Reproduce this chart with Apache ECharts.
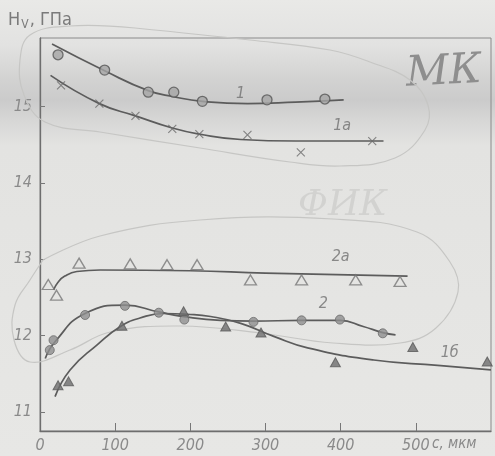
<!DOCTYPE html>
<html><head><meta charset="utf-8">
<script src="https://cdn.jsdelivr.net/npm/echarts@6/dist/echarts.min.js"></script>
<style>html,body{margin:0;padding:0;background:#e7e7e5}#c{width:495px;height:456px}</style>
</head><body><div id="c"></div>
<script>
// Measured points (c, мкм ; Hv, ГПа)
const pts1  = [[24,15.68],[86,15.48],[144,15.19],[178,15.19],[216,15.07],[302,15.09],[379,15.10]];
const pts1a = [[28,15.28],[79,15.04],[127,14.88],[176,14.71],[212,14.64],[276,14.63],[347,14.40],[442,14.55]];
const pts2a = [[11,12.67],[22,12.53],[52,12.95],[120,12.94],[169,12.93],[209,12.93],[280,12.73],[348,12.73],[420,12.73],[479,12.71]];
const pts2  = [[13,11.81],[18,11.94],[60,12.27],[113,12.39],[158,12.30],[192,12.21],[284,12.18],[348,12.20],[399,12.21],[456,12.03]];
const pts1b = [[24,11.35],[38,11.40],[109,12.13],[191,12.32],[247,12.12],[294,12.04],[393,11.65],[496,11.85],[595,11.66]];
// Fitted curves
const curve1  = [[16,15.82],[86,15.47],[144,15.21],[178,15.13],[216,15.07],[276,15.04],[340,15.06],[404,15.09]];
const curve1a = [[14,15.41],[79,15.04],[127,14.88],[176,14.72],[212,14.64],[267,14.57],[340,14.55],[457,14.55]];
const curve2a = [[18,12.60],[24,12.70],[33,12.78],[49,12.84],[80,12.86],[200,12.85],[300,12.82],[489,12.78]];
const curve2  = [[7,11.70],[20,11.92],[60,12.29],[113,12.40],[158,12.31],[191,12.25],[240,12.20],[284,12.19],[348,12.20],[399,12.20],[430,12.12],[456,12.04],[473,12.01]];
const curve1b = [[20,11.20],[40,11.55],[76,11.88],[107,12.12],[133,12.23],[164,12.29],[196,12.28],[227,12.25],[267,12.16],[311,11.99],[356,11.84],[444,11.68],[529,11.61],[600,11.55]];
// Curve labels
const curveLabels = [[267,15.17,'1'],[402,14.75,'1a'],[400,13.03,'2a'],[377,12.41,'2'],[545,11.78,'1б']];
const xTicks = [0,100,200,300,400,500];
const yTicks = [11,12,13,14,15];

const FONT = "'Liberation Sans Narrow','DejaVu Sans Condensed',sans-serif";
const LINE = '#5c5c5c';

// hand-drawn pencil loops (annotation, pixel sketch)
const loopMK  = [[135,28],[70,26],[30,35],[20,60],[24,95],[45,122],[100,132],[200,148],[290,162],[340,166],[395,158],[425,130],[428,105],[410,80],[370,62],[330,50],[250,40],[135,28]];
const loopFIK = [[43,260],[100,236],[200,220],[333,219],[417,232],[450,262],[458,292],[436,328],[400,343],[333,343],[260,333],[180,326],[110,332],[70,350],[30,362],[14,340],[15,305],[30,280],[43,260]];

const chart = echarts.init(document.getElementById('c'), null, {renderer:'canvas'});
function curve(data){
  return {type:'line', data, smooth:0.5, showSymbol:false, symbol:'none', silent:true,
          lineStyle:{color:LINE, width:1.7}, z:2};
}
chart.setOption({
  animation:false,
  backgroundColor:{type:'linear',x:0,y:0,x2:0,y2:1,colorStops:[
    {offset:0,color:'#e9e9e7'},{offset:0.1,color:'#e2e2e1'},{offset:0.17,color:'#d3d3d2'},
    {offset:0.22,color:'#cbcbcb'},{offset:0.26,color:'#d6d6d5'},{offset:0.32,color:'#e3e3e1'},
    {offset:1,color:'#e7e7e5'}]},
  grid:{left:40, top:38, right:4, bottom:25, show:true, borderColor:'#8a8a8a', borderWidth:1, backgroundColor:'transparent'},
  xAxis:{type:'value', min:0, max:600,
    axisLine:{show:true, lineStyle:{color:'#6e6e6e', width:1.3}},
    axisTick:{show:true, inside:true, length:8, customValues:[100,200,300,400,500], lineStyle:{color:'#777'}},
    axisLabel:{customValues:xTicks, margin:7, color:'#8a8a8a', fontFamily:FONT, fontStyle:'italic', fontSize:16},
    splitLine:{show:false}},
  yAxis:{type:'value', min:10.75, max:15.9,
    name:'{h|H}{s|V}{h|, ГПа}', nameLocation:'end', nameGap:7,
    nameTextStyle:{align:'center', rich:{
      h:{fontFamily:FONT, fontSize:18, color:'#7a7a7a'},
      s:{fontFamily:FONT, fontSize:12, color:'#7a7a7a', verticalAlign:'bottom', padding:[9,1,0,1]}}},
    axisLine:{show:true, lineStyle:{color:'#6e6e6e', width:1.3}},
    axisTick:{show:true, inside:true, length:5, customValues:yTicks, lineStyle:{color:'#777'}},
    axisLabel:{customValues:yTicks, margin:8, color:'#8a8a8a', fontFamily:FONT, fontStyle:'italic', fontSize:16},
    splitLine:{show:false}},
  graphic:[
    {type:'polyline', z:1, silent:true, shape:{points:loopMK, smooth:0.4}, style:{fill:null, stroke:'#c6c6c4', lineWidth:1.2}},
    {type:'polyline', z:1, silent:true, shape:{points:loopFIK, smooth:0.4}, style:{fill:null, stroke:'#c6c6c4', lineWidth:1.2}},
    {type:'text', left:432, top:437, style:{text:'c, мкм', fill:'#8a8a8a', font:"italic 15px "+FONT}},
    {type:'text', left:405, top:50, rotation:0.05, style:{text:'МК', fill:'#8e8e8e', font:"italic 42px 'DejaVu Serif',serif"}},
    {type:'text', left:298, top:188, style:{text:'ФИК', fill:'#d2d2d0', font:"italic 36px 'DejaVu Serif',serif"}}
  ],
  series:[
    curve(curve1), curve(curve1a), curve(curve2a), curve(curve2), curve(curve1b),
    {type:'scatter', data:pts1, symbol:'circle', symbolSize:10, z:3,
     itemStyle:{color:'#a5a5a5', borderColor:'#555', borderWidth:1.3}},
    {type:'scatter', data:pts1a, symbol:'path://M0,0L10,10M10,0L0,10', symbolSize:8, z:3,
     itemStyle:{color:'rgba(0,0,0,0)', borderColor:'#6a6a6a', borderWidth:1.1}},
    {type:'scatter', data:pts2a, symbol:'triangle', symbolSize:[12,10], z:3,
     itemStyle:{color:'rgba(0,0,0,0)', borderColor:'#777', borderWidth:1.3}},
    {type:'scatter', data:pts2, symbol:'circle', symbolSize:9, z:3,
     itemStyle:{color:'#8e8e8e', borderColor:'#6a6a6a', borderWidth:1}},
    {type:'scatter', data:pts1b, symbol:'triangle', symbolSize:[10,9], z:3,
     itemStyle:{color:'#6e6e6e', borderColor:'#5a5a5a', borderWidth:1}},
    {type:'scatter', data:curveLabels.map(d=>[d[0],d[1],d[2]]), symbol:'circle', symbolSize:1, z:4, silent:true,
     itemStyle:{color:'rgba(0,0,0,0)'},
     label:{show:true, position:'inside', formatter:p=>p.data[2], color:'#707070',
            fontFamily:FONT, fontStyle:'italic', fontSize:16}}
  ]
});
</script></body></html>
